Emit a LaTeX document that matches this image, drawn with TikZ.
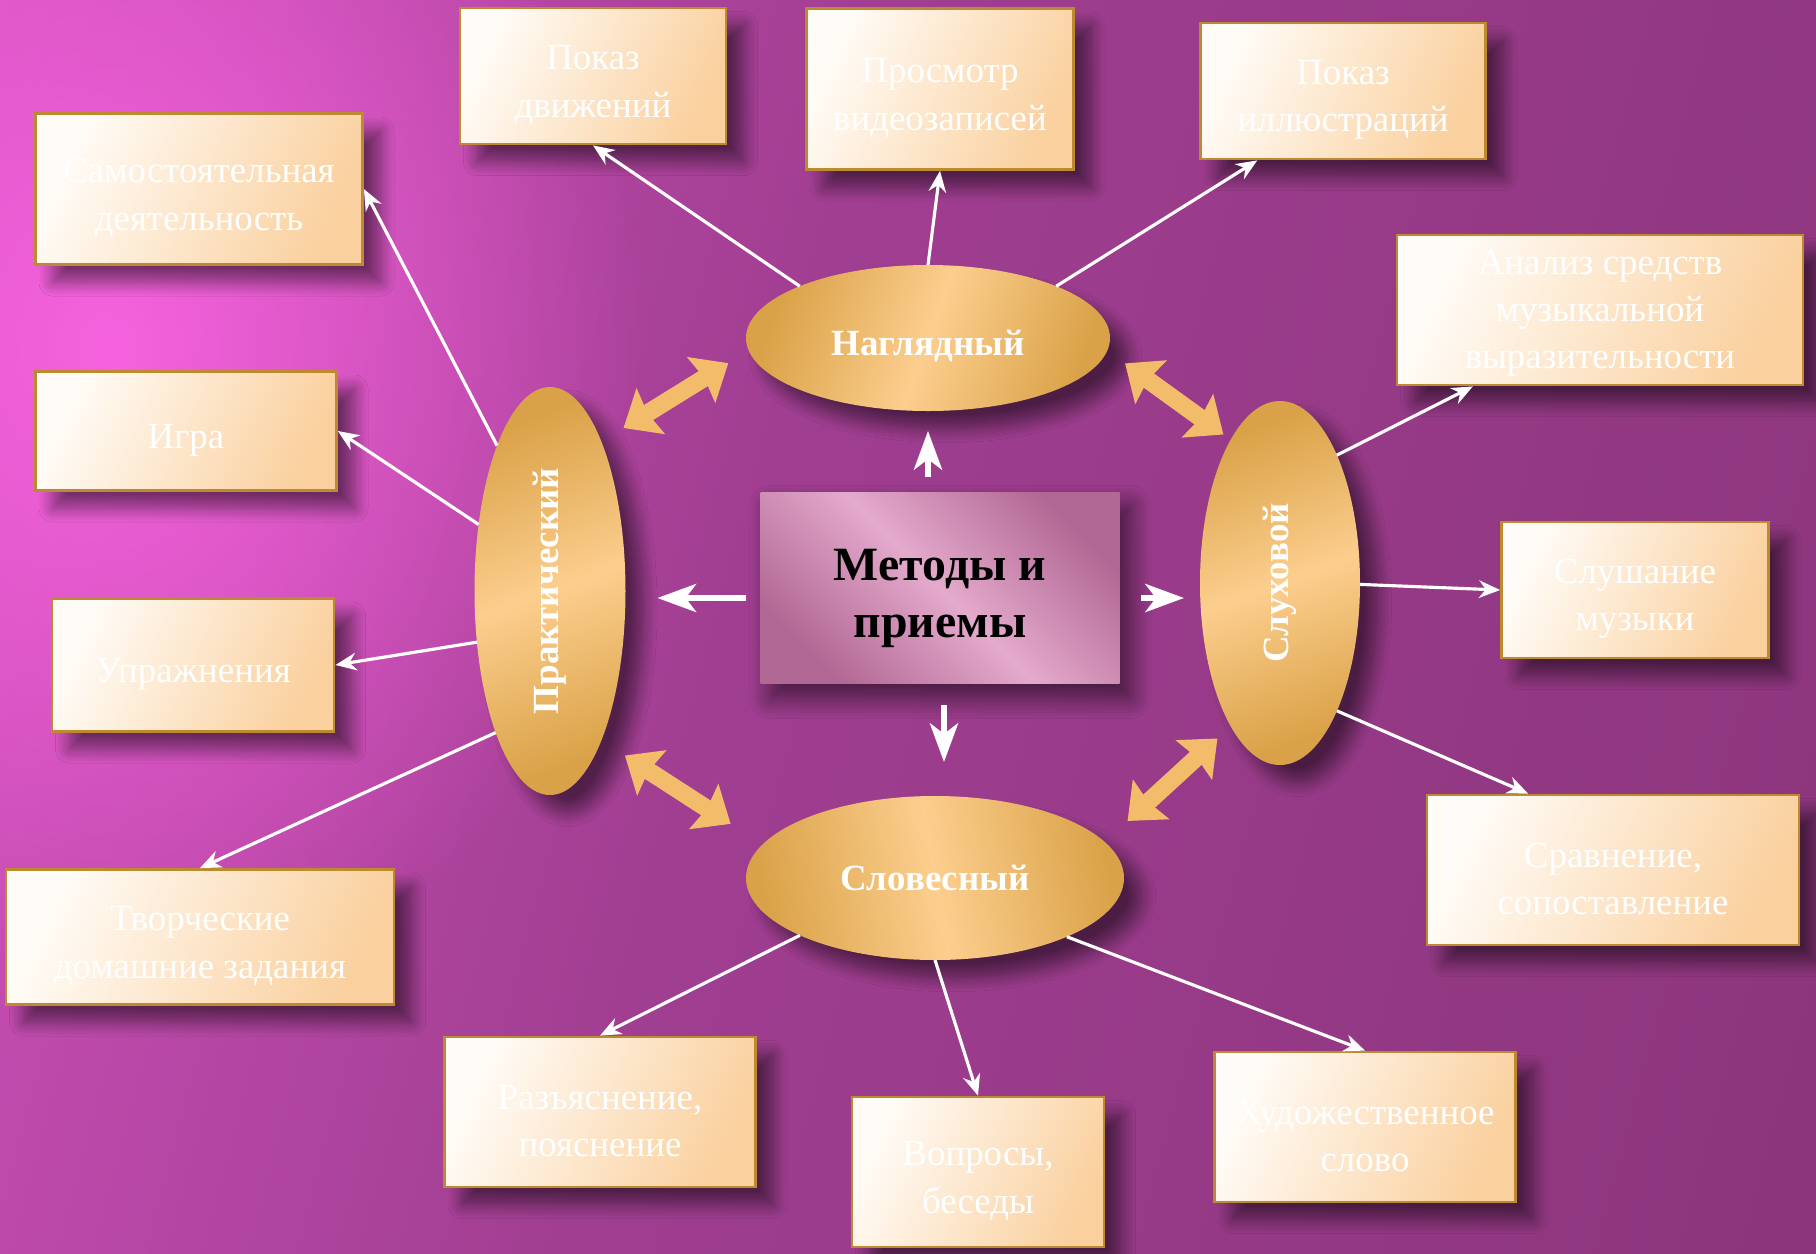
\documentclass[tikz,border=0pt]{standalone}
\usepackage{fontspec}
\setmainfont{Liberation Serif}
\usetikzlibrary{arrows.meta,shapes.geometric,shadows.blur,fadings}

\definecolor{bgA}{RGB}{255,102,230}
\definecolor{bgB}{RGB}{205,80,185}
\definecolor{bgC}{RGB}{160,62,145}
\definecolor{bgD}{RGB}{128,48,112}
\definecolor{leafL}{RGB}{255,252,248}
\definecolor{leafR}{RGB}{250,208,158}
\definecolor{leafedge}{RGB}{190,138,48}
\definecolor{goldD}{RGB}{218,162,72}
\definecolor{goldL}{RGB}{252,206,142}
\definecolor{coreD}{RGB}{178,104,148}
\definecolor{coreL}{RGB}{228,170,204}
\definecolor{fatarrow}{RGB}{242,188,106}

\pgfdeclarehorizontalshading{bgwash}{100bp}{color(0bp)=(bgA); color(20bp)=(bgB); color(45bp)=(bgC); color(100bp)=(bgD)}
\tikzfading[name=glow, inner color=transparent!0, outer color=transparent!100]

% invisible strut on the first line, pushes the text down a little
\newcommand{\lift}[1][12pt]{\rule{0pt}{#1}}

\tikzset{
  softshadow/.style={blur shadow={shadow xshift=5pt, shadow yshift=-5pt, shadow blur radius=4pt, shadow blur steps=12, shadow opacity=50}},
  leaf/.style={rectangle, draw=leafedge, line width=0.8pt, left color=leafL, right color=leafR, shading angle=65,
    text=white, align=center, inner ysep=1pt, font=\fontsize{10.5}{13.4}\selectfont, softshadow},
  method/.style={ellipse, outer sep=0pt, inner sep=1pt, text=white, font=\bfseries\fontsize{10.5}{12.6}\selectfont,
    top color=goldD, bottom color=goldD, middle color=goldL, softshadow},
  core/.style={rectangle, minimum width=35.9mm, minimum height=19.1mm, top color=coreD, bottom color=coreD,
    middle color=coreL, shading angle=-45, align=center, font=\bfseries\fontsize{13.6}{16.2}\selectfont,
    blur shadow={shadow xshift=3pt, shadow yshift=-4pt, shadow blur radius=6pt, shadow blur steps=12, shadow opacity=60}},
  link/.style={white, line width=0.9pt, -{Stealth[length=6pt,width=5pt]}},
  stub/.style={white, line width=1.6pt, -{Stealth[length=11pt,width=8pt,inset=3pt]}},
  fat/.style={fatarrow, line width=5pt, {Stealth[length=9pt,width=15pt,inset=1pt]}-{Stealth[length=9pt,width=15pt,inset=1pt]}}
}

\begin{document}
\begin{tikzpicture}[x=0.1mm, y=-0.1mm]
\useasboundingbox (0,0) rectangle (1816,1254);

% Background
\shade[shading=bgwash, shading angle=-15] (0,0) rectangle (1816,1254);
\fill[bgA, path fading=glow, opacity=0.85] (110,350) ellipse (540 and 680);

% Centre
\node[core] (core) at (940,588) {\lift[15pt]Методы и\\приемы};

% Methods
\node[method, minimum width=36.4mm, minimum height=14.6mm, shading angle=70] (nagl) at (928,338) {\lift Наглядный};
\node[method, minimum width=15.1mm, minimum height=40.8mm, shading angle=20] (prak) at (550,591) {\rotatebox{90}{Практический}};
\node[method, minimum width=16mm, minimum height=36.4mm, shading angle=20] (sluh) at (1280,583) {\rotatebox{90}{Слуховой}};
\node[method, minimum width=37.8mm, minimum height=16.4mm, shading angle=100] (slov) at (935,878) {Словесный};

% Techniques
\node[leaf, minimum width=26.6mm, minimum height=13.6mm] (pokaz) at (593,76) {\lift Показ\\движений};
\node[leaf, minimum width=26.7mm, minimum height=16.1mm] (video) at (940,89) {\lift Просмотр\\видеозаписей};
\node[leaf, minimum width=28.5mm, minimum height=13.6mm] (illus) at (1343,91) {\lift Показ\\иллюстраций};
\node[leaf, minimum width=32.7mm, minimum height=15.1mm] (samost) at (199,189) {\lift Самостоятельная\\деятельность};
\node[leaf, minimum width=30.1mm, minimum height=11.9mm] (igra) at (186,431) {\lift Игра};
\node[leaf, minimum width=28.2mm, minimum height=13.3mm] (uprazh) at (193,665) {\lift Упражнения};
\node[leaf, minimum width=38.8mm, minimum height=13.5mm] (tvorch) at (200,937) {\lift Творческие\\домашние задания};
\node[leaf, minimum width=31.1mm, minimum height=15mm] (razyas) at (600,1112) {\lift Разъяснение,\\пояснение};
\node[leaf, minimum width=25.2mm, minimum height=15mm] (vopros) at (978,1172) {\lift Вопросы,\\беседы};
\node[leaf, minimum width=30.1mm, minimum height=15mm] (hudozh) at (1365,1127) {\lift Художественное\\слово};
\node[leaf, minimum width=37.2mm, minimum height=15mm] (sravn) at (1613,870) {\lift Сравнение,\\сопоставление};
\node[leaf, minimum width=26.7mm, minimum height=13.6mm] (slush) at (1635,590) {\lift Слушание\\музыки};
\node[leaf, minimum width=40.6mm, minimum height=15mm] (analiz) at (1600,310) {\lift[9pt]Анализ средств\\музыкальной\\выразительности};

% Centre to methods
\draw[stub] ([yshift=1.5mm]core.north -| nagl.south) -- ([yshift=-2mm]nagl.south);
\draw[stub] ([xshift=-1.4mm,yshift=-1mm]core.west) -- ([xshift=3.2mm,yshift=-0.7mm]prak.east);
\draw[stub] ([xshift=2.1mm,yshift=-1mm]core.east) -- ([xshift=-1.6mm,yshift=-1.5mm]sluh.west);
\draw[stub] ([xshift=0.4mm,yshift=-2.1mm]core.south) -- ([xshift=0.9mm,yshift=3.4mm]slov.north);

% Methods to each other
\draw[fat, shorten <=2.6mm, shorten >=2.4mm] (prak.71) -- (nagl.184);
\draw[fat, shorten <=2.2mm, shorten >=0.9mm] (nagl.356) -- (sluh.109);
\draw[fat, shorten <=2.8mm, shorten >=3.8mm] (prak.289) -- (slov.169);
\draw[fat, shorten <=1.8mm, shorten >=3.1mm] (sluh.251) -- (slov.12);

% Methods to techniques
\draw[link] (nagl.158) -- (pokaz.south);
\draw[link] (nagl.90) -- (video.south);
\draw[link] (nagl.22) -- (illus.219);
\draw[link] (prak.110) -- (samost.east);
\draw[link] (prak.137) -- (igra.east);
\draw[link] (prak.215) -- (uprazh.east);
\draw[link] (prak.249) -- (tvorch.north);
\draw[link] (sluh.66) -- (analiz.211);
\draw[link] (sluh.-1) -- (slush.west);
\draw[link] (sluh.-66) -- (sravn.138);
\draw[link] (slov.203) -- (razyas.north);
\draw[link] (slov.270) -- (vopros.north);
\draw[link] (slov.336) -- (hudozh.north);

\end{tikzpicture}
\end{document}
